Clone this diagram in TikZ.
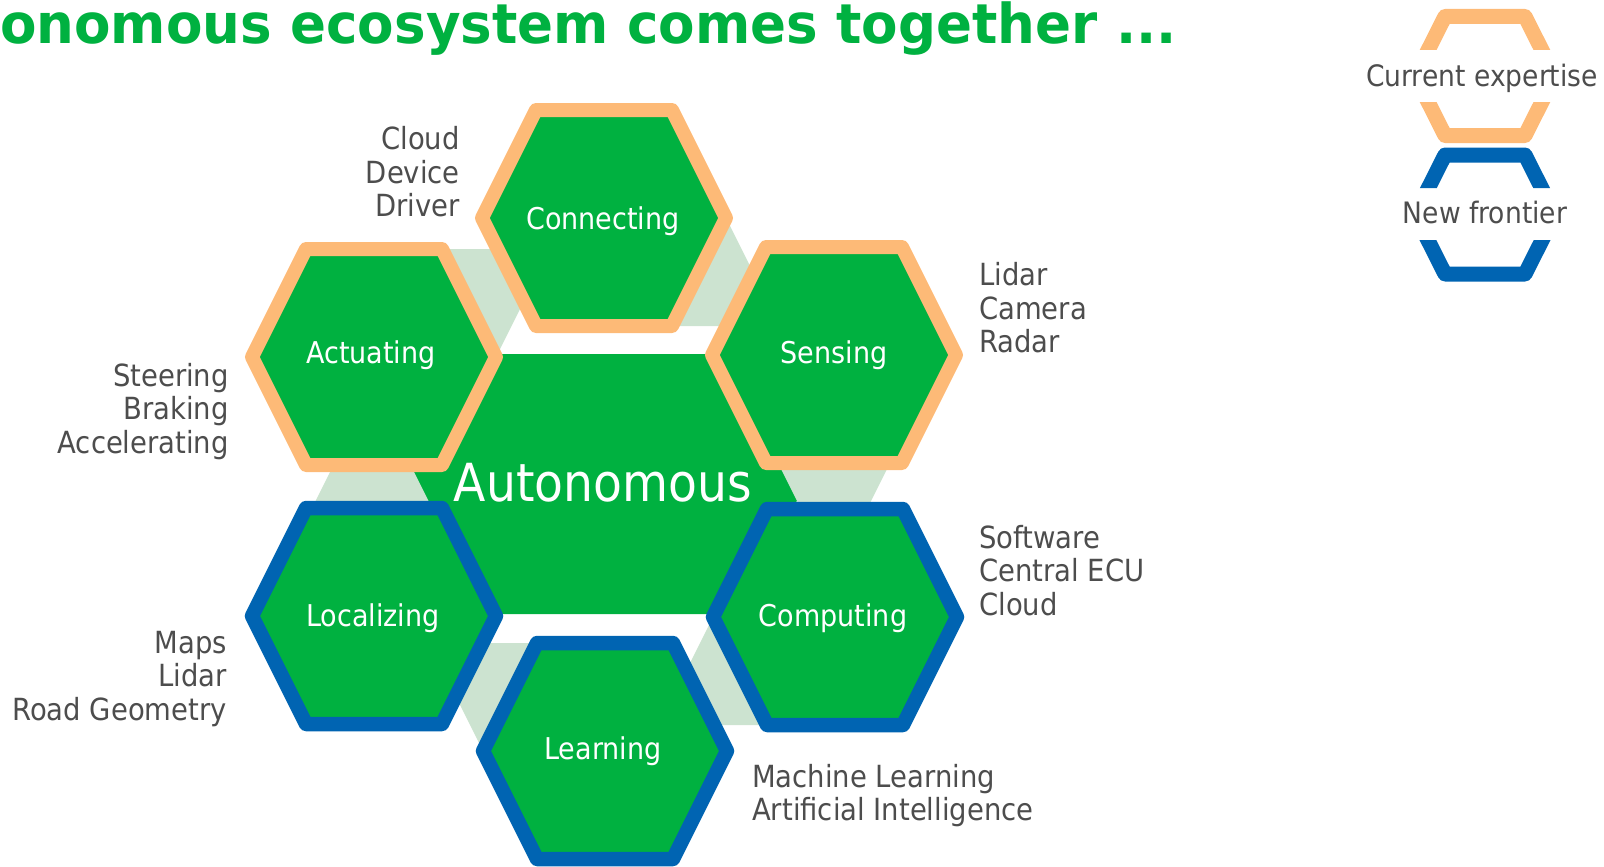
\documentclass[tikz,border=0pt]{standalone}
\usepackage{fontspec}
\newfontfamily\labfont[FakeStretch=0.9]{DejaVu Sans}
\newfontfamily\titlefont[FakeStretch=0.965]{DejaVu Sans}
\definecolor{hexgreen}{HTML}{00B140}
\definecolor{curorange}{HTML}{FDBA77}
\definecolor{newblue}{HTML}{0064B2}
\definecolor{bridgegreen}{HTML}{CCE3D0}
\definecolor{labgray}{HTML}{4D4D4D}
\newcommand{\hexshape}[6]{%
  \path[#1] (#2+#4,#3) -- (#2+#5,#3+#6) -- (#2-#5,#3+#6) -- (#2-#4,#3) -- (#2-#5,#3-#6) -- (#2+#5,#3-#6) -- cycle;}
\tikzset{
  autohex/.style={fill=hexgreen},
  bridge/.style={fill=bridgegreen},
  curhex/.style={fill=hexgreen, draw=curorange, line width=14pt, line join=round},
  newhex/.style={fill=hexgreen, draw=newblue, line width=14.5pt, line join=round},
  curleg/.style={draw=curorange, line width=15pt, line join=round},
  newleg/.style={draw=newblue, line width=15pt, line join=round},
  hexlabel/.style={text=white, inner sep=0pt, anchor=base, font=\labfont\fontsize{30}{34}\selectfont},
  biglabel/.style={text=white, inner sep=0pt, anchor=base, font=\labfont\fontsize{52.5}{56}\selectfont},
  sideR/.style={text=labgray, inner sep=0pt, anchor=base east, font=\labfont\fontsize{30.5}{34}\selectfont},
  sideL/.style={text=labgray, inner sep=0pt, anchor=base west, font=\labfont\fontsize{30.5}{34}\selectfont},
  legtext/.style={text=labgray, inner sep=0pt, anchor=base, font=\labfont\fontsize{29.5}{32}\selectfont},
  titletext/.style={text=hexgreen, inner sep=0pt, anchor=base west, font=\titlefont\bfseries\fontsize{55}{60}\selectfont}
}
\begin{document}
\begin{tikzpicture}[x=1pt,y=-1pt]
\useasboundingbox (0,0) rectangle (1604,867);
% title
\node[titletext] (title) at (0,44) {onomous ecosystem comes together ...};
% central hexagon
\hexshape{autohex}{604}{484}{205}{112}{130}
% light bridges between neighbouring hexagons
\fill[bridge] (442,249) -- (496,357) -- (550,249) -- cycle;
\fill[bridge] (726,218) -- (672,326) -- (780,326) -- cycle;
\fill[bridge] (778,463) -- (890,463) -- (834,575) -- cycle;
\fill[bridge] (767,725) -- (713,617) -- (659,725) -- cycle;
\fill[bridge] (483,751) -- (537,643) -- (429,643) -- cycle;
\fill[bridge] (312,508) -- (432,508) -- (372,388) -- cycle;
% outer hexagons
\hexshape{curhex}{604}{218}{122}{68}{108}
\hexshape{curhex}{374}{357}{122}{68}{108}
\hexshape{curhex}{834}{355}{122}{68}{108}
\hexshape{newhex}{374}{616}{122}{68}{108}
\hexshape{newhex}{835}{617}{122}{68}{108}
\hexshape{newhex}{605}{751}{122}{68}{108}
% hexagon labels
\node[biglabel] (auto) at (603,501) {Autonomous};
\node[hexlabel] (conn) at (603,229) {Connecting};
\node[hexlabel] (act) at (371,363) {Actuating};
\node[hexlabel] (sens) at (834,363) {Sensing};
\node[hexlabel] (loc) at (373,626) {Localizing};
\node[hexlabel] (comp) at (833,626) {Computing};
\node[hexlabel] (lrn) at (603,759) {Learning};
% side texts
\node[sideR] (c1) at (460,149.5) {Cloud};
\node[sideR] (c2) at (460,183) {Device};
\node[sideR] (c3) at (460,216.5) {Driver};
\node[sideR] (a1) at (229,386) {Steering};
\node[sideR] (a2) at (229,419.5) {Braking};
\node[sideR] (a3) at (229,453) {Accelerating};
\node[sideL] (s1) at (979,285.5) {Lidar};
\node[sideL] (s2) at (979,319) {Camera};
\node[sideL] (s3) at (979,352.5) {Radar};
\node[sideL] (p1) at (979,548) {Software};
\node[sideL] (p2) at (979,581.5) {Central ECU};
\node[sideL] (p3) at (979,615) {Cloud};
\node[sideR] (l1) at (227,653) {Maps};
\node[sideR] (l2) at (227,686.5) {Lidar};
\node[sideR] (l3) at (227,720) {Road Geometry};
\node[sideL] (m1) at (752,787) {Machine Learning};
\node[sideL] (m2) at (752,820.5) {Artificial Intelligence};
% legend
\begin{scope}
  \clip (1380,0) rectangle (1600,50) (1380,102) rectangle (1600,150);
  \hexshape{curleg}{1485}{76}{70}{40}{59.5}
\end{scope}
\begin{scope}
  \clip (1380,140) rectangle (1600,188) (1380,240) rectangle (1600,290);
  \hexshape{newleg}{1485}{214.5}{70}{40}{59.5}
\end{scope}
\node[legtext] (lg1) at (1482,87) {Current expertise};
\node[legtext] (lg2) at (1485,223) {New frontier};
\end{tikzpicture}
\end{document}
